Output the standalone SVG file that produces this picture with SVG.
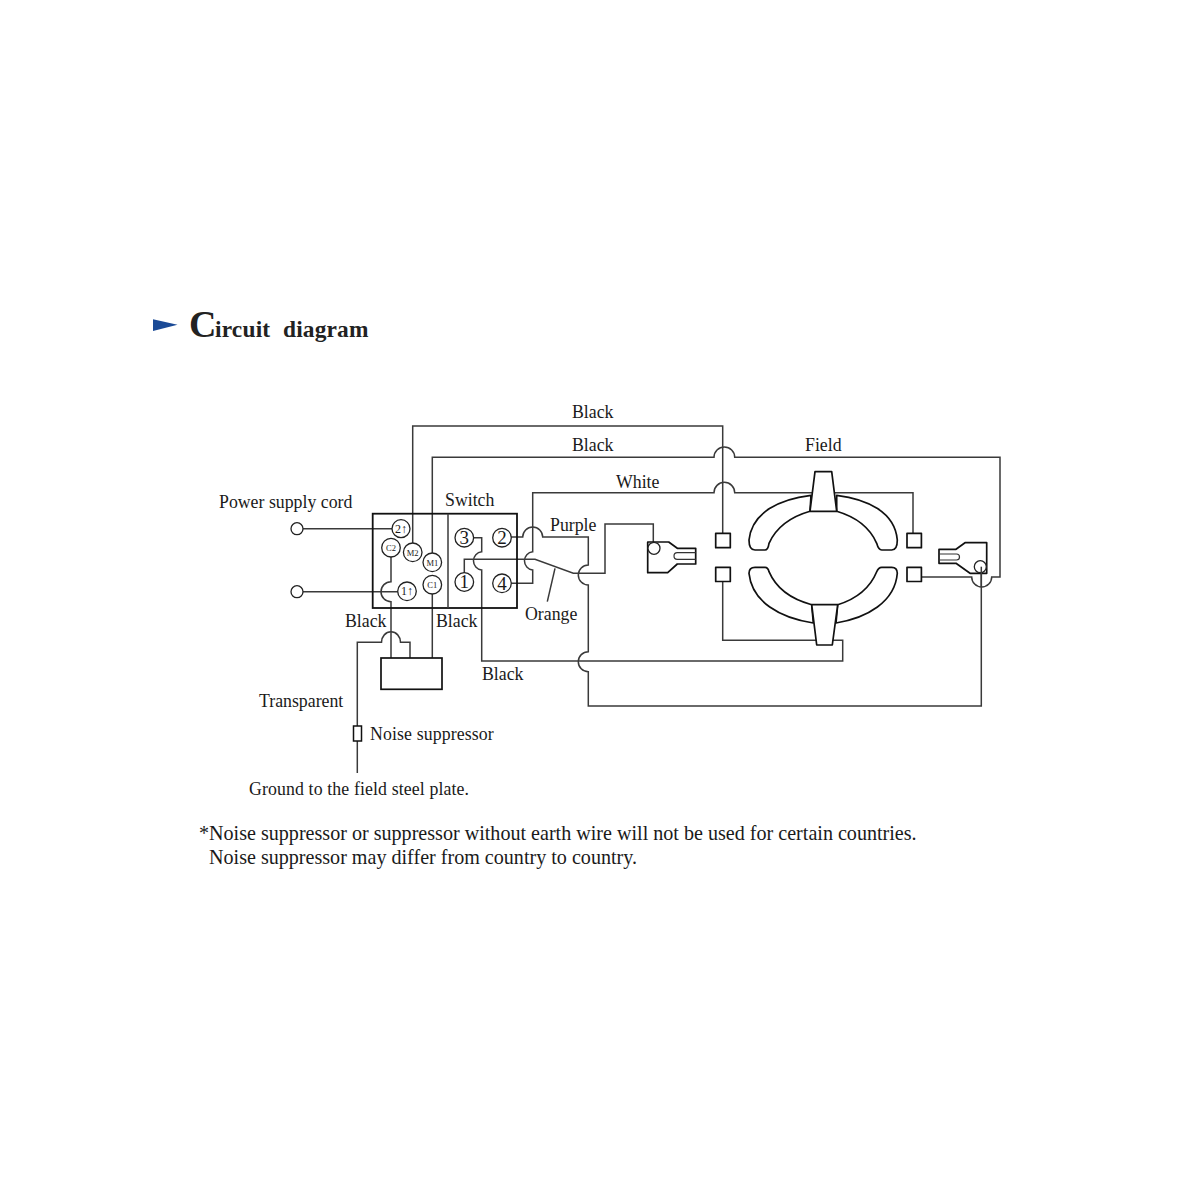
<svg xmlns="http://www.w3.org/2000/svg" width="1200" height="1200" viewBox="0 0 1200 1200">
<style>
text{font-family:"Liberation Serif","Times New Roman",serif;fill:#1a1a1a}
.l{font-size:17.8px}
.m{letter-spacing:0.12px}
.n{font-size:20.1px}
.t{font-size:19px;text-anchor:middle}
.s{font-size:8.5px;text-anchor:middle}
.a{font-size:12px;text-anchor:middle}
.w{fill:none;stroke:#3a3a3a;stroke-width:1.5}
.o{fill:#fff;stroke:#111;stroke-width:1.7;stroke-linejoin:round}
.c{fill:#fff;stroke:#222;stroke-width:1.3}
.h{font-family:"Liberation Serif",serif;font-weight:bold;fill:#222}
</style>
<rect width="1200" height="1200" fill="#fff"/>
<g id="title">
<polygon points="153,319.3 177.5,324.7 153,331" fill="#1a4a96"/>
<text x="189" y="337" class="h" font-size="38">C</text>
<text x="215" y="337" class="h" font-size="23.4" letter-spacing="0.2">ircuit</text>
<text x="283" y="337" class="h" font-size="23.4" letter-spacing="0.15">diagram</text>
</g>
<g id="connectors">
<path class="w" d="M303 528.7H392"/>
<path class="w" d="M303 591.7H398"/>
<path class="w" d="M412.7 543V426H722.7V533"/>
<path class="w" d="M432.3 553V457.3H714A10.35 10.35 0 0 1 734.7 457.3H1000V577H991.7A10 10 0 0 1 971.7 577H921"/>
<path class="w" d="M511 583.3H532.7V570A9.2 9.2 0 0 1 532.7 551.7V492.7H714A10.35 10.35 0 0 1 734.7 492.7H913V533"/>
<path class="w" d="M511 537H522.7A10 10 0 0 1 542.7 537H588.3V565A10 10 0 0 0 588.3 585V651.7A10 10 0 0 0 588.3 671.7V706H981.3V566.7"/>
<path class="w" d="M473 537.7H481.7V551.7A9.2 9.2 0 0 0 481.7 570V661H842.7V640.3H722.7V581"/>
<path class="w" d="M464.3 573V559.3H535L573.3 573.3H605V524H653.3V542"/>
<path class="w" d="M555 568.3L547.3 601.7"/>
<path class="w" d="M391 556.7V581.7A10 10 0 0 0 391 601.7V658"/>
<path class="w" d="M432.3 594V658"/>
<path class="w" d="M410 658V642.3H400.5A9.5 10.5 0 0 0 381.5 642.3H357.3V726"/>
<path class="w" d="M357.3 741V773"/>
</g>
<g id="power-terminal-top"><circle class="c" cx="297" cy="528.7" r="6"/></g>
<g id="power-terminal-bottom"><circle class="c" cx="297" cy="591.7" r="6"/></g>
<g id="switch">
<rect x="372.7" y="513.7" width="144.3" height="94.3" fill="none" stroke="#111" stroke-width="1.8"/>
<path d="M448 513.7V608" fill="none" stroke="#3a3a3a" stroke-width="1.5"/>
<g id="t-2a"><circle class="c" cx="401" cy="528.7" r="9"/><text x="401" y="532.7" class="a">2↑</text></g>
<g id="t-1a"><circle class="c" cx="407" cy="591.3" r="9.3"/><text x="407" y="595.3" class="a">1↑</text></g>
<g id="t-c2"><circle class="c" cx="391" cy="547.7" r="9.3"/><text x="391" y="550.8" class="s">C2</text></g>
<g id="t-m2"><circle class="c" cx="412.7" cy="552.3" r="9.3"/><text x="412.7" y="555.5" class="s">M2</text></g>
<g id="t-m1"><circle class="c" cx="432.3" cy="562.3" r="9.3"/><text x="432.3" y="565.5" class="s">M1</text></g>
<g id="t-c1"><circle class="c" cx="432.3" cy="584.7" r="9.3"/><text x="432.3" y="587.8" class="s">C1</text></g>
<g id="t-3"><circle class="c" cx="464.3" cy="537.7" r="9.3"/><text x="464.3" y="544" class="t">3</text></g>
<g id="t-2"><circle class="c" cx="502" cy="537.7" r="9.3"/><text x="502" y="544" class="t">2</text></g>
<g id="t-1"><circle class="c" cx="464.3" cy="582" r="9.3"/><text x="464.3" y="588.3" class="t">1</text></g>
<g id="t-4"><circle class="c" cx="502" cy="583.3" r="9.3"/><text x="502" y="589.6" class="t">4</text></g>
</g>
<g id="capacitor"><rect x="381" y="658" width="61" height="31.3" fill="#fff" stroke="#111" stroke-width="1.7"/></g>
<g id="noise-suppressor"><rect x="353.5" y="726" width="8" height="15" fill="#fff" stroke="#111" stroke-width="1.5"/></g>
<g id="field-connector-top-left"><rect class="o" x="715.7" y="533.3" width="14.6" height="14.4"/></g>
<g id="field-connector-bottom-left"><rect class="o" x="715.7" y="567.3" width="14.6" height="14.2"/></g>
<g id="field-connector-top-right"><rect class="o" x="907" y="533.3" width="14.4" height="14.4"/></g>
<g id="field-connector-bottom-right"><rect class="o" x="907" y="567.3" width="14.4" height="14.2"/></g>
<g id="field">
<path class="o" d="M811 495.3C780 499 752 512 749 540Q749 550 755 550H765Q768 550 769 543.3C776 528 790 517 810 511.3Z"/>
<path class="o" d="M836.7 495.3C867 499 895 512 897.3 540Q897.3 550 891.7 550H881.7Q878.5 550 876.7 543.3C870 528 856 517 836.7 511.3Z"/>
<path class="o" d="M813.3 623C780 618 752 602 749 573.3Q749 567.3 755 567.3H765Q768 567.3 769 571.7C776 588 790 599 811.7 604.7Z"/>
<path class="o" d="M836 623C867 618 895 602 897.3 573.3Q897.3 567.3 891.7 567.3H881.7Q878.5 567.3 876.7 571.7C870 588 856 599 837.7 604.7Z"/>
<polygon class="o" points="815,471.7 831.7,471.7 836.7,511.3 810,511.3"/>
<polygon class="o" points="811.7,604.7 837.7,604.7 832.3,645 816.7,645"/>
</g>
<g id="brush-left">
<path class="o" d="M647.7 542H668.7L677.3 548.3H695.7V564H677.3L667.7 572.7H647.7Z"/>
<path d="M695.7 552.7H677.3A3.3 3.3 0 0 0 677.3 559.3H695.7" fill="none" stroke="#333" stroke-width="1.2"/>
<circle class="c" cx="654" cy="548.3" r="6"/>
</g>
<g id="brush-right">
<path class="o" d="M939 549.3H956L965 542.7H986.7V573.3H970L956 563.3H939Z"/>
<path d="M939 554H956.5A3 3 0 0 1 956.5 560H939" fill="none" stroke="#333" stroke-width="1.2"/>
<circle class="c" cx="980.3" cy="566.7" r="6"/>
<path class="w" d="M981.3 566.7V586"/>
</g>
<g id="labels">
<text x="572" y="417.5" class="l">Black</text>
<text x="572" y="450.5" class="l">Black</text>
<text x="805" y="450.5" class="l">Field</text>
<text x="616" y="487.5" class="l">White</text>
<text x="219" y="508" class="l">Power supply cord</text>
<text x="445" y="505.5" class="l">Switch</text>
<text x="550" y="531" class="l">Purple</text>
<text x="525" y="620" class="l">Orange</text>
<text x="345" y="627" class="l">Black</text>
<text x="436" y="627" class="l">Black</text>
<text x="482" y="679.5" class="l">Black</text>
<text x="259" y="707" class="l">Transparent</text>
<text x="370" y="740" class="l m">Noise suppressor</text>
<text x="249" y="794.5" class="l m">Ground to the field steel plate.</text>
<text x="199" y="839.5" class="n">*Noise suppressor or suppressor without earth wire will not be used for certain countries.</text>
<text x="209" y="863.5" class="n">Noise suppressor may differ from country to country.</text>
</g>
</svg>
